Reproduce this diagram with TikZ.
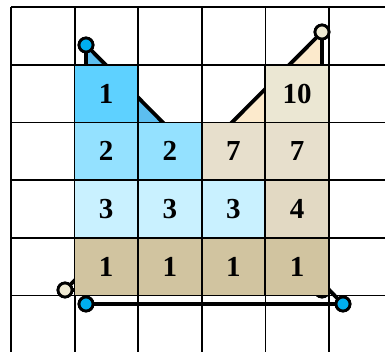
\documentclass[tikz,border=0pt]{standalone}
\usepackage{fontspec}
\setmainfont{Liberation Serif}
\usepackage{tikz}
\usetikzlibrary{positioning}
\definecolor{blueA}{HTML}{5ED1FF}
\definecolor{blueB}{HTML}{94E1FF}
\definecolor{blueC}{HTML}{C9F1FF}
\definecolor{tanA}{HTML}{D1C4A0}
\definecolor{beigeA}{HTML}{EBE7D3}
\definecolor{beigeB}{HTML}{E7DFCC}
\definecolor{beigeC}{HTML}{E2D9C3}
\definecolor{triblue}{HTML}{5CBEEF}
\definecolor{tribeige}{HTML}{FCEACC}
\definecolor{dotblue}{HTML}{00AEEF}
\definecolor{dotbeige}{HTML}{EEE9D2}
\tikzstyle{gridline}=[line width=1.8pt]
\tikzstyle{cell}=[draw, line width=1.8pt, outer sep=0pt, inner sep=0pt, minimum width=63.6pt, minimum height=57.7pt, font=\fontsize{29}{29}\selectfont\bfseries]
\tikzstyle{vert}=[circle, draw, line width=2.8pt, minimum size=14pt, inner sep=0pt]
\tikzstyle{tri}=[line width=3.8pt, line join=round]

\begin{document}
\begin{tikzpicture}[x=1pt, y=-1pt]
		\clip (0,0) rectangle (385,351);
		% grid
		\foreach \i in {0,...,6} {
			\draw[gridline] (11+63.6*\i,7) -- (11+63.6*\i,360);
			\draw[gridline] (11,7+57.7*\i) -- (400,7+57.7*\i);
		}
		% triangles
		\node[vert, fill=dotblue] (B1) at (86,45) {};
		\node[vert, fill=dotblue] (B2) at (343,304) {};
		\node[vert, fill=dotblue] (B3) at (86,304) {};
		\node[vert, fill=dotbeige] (E1) at (322,32) {};
		\node[vert, fill=dotbeige] (E2) at (65,290) {};
		\node[vert, fill=dotbeige] (E3) at (322,290) {};
		\begin{scope}
			\clip (74.5,0) rectangle (329,295.5);
			\fill[tribeige] (E1.center) -- (E2.center) -- (E3.center) -- cycle;
			\fill[triblue] (B1.center) -- (B2.center) -- (B3.center) -- cycle;
		\end{scope}
		\draw[tri] (E1.center) -- (E2.center) -- (E3.center) -- cycle;
		\draw[tri] (B1.center) -- (B2.center) -- (B3.center) -- cycle;
		\node[vert, fill=dotbeige] at (E1) {};
		\node[vert, fill=dotbeige] at (E2) {};
		\node[vert, fill=dotbeige] at (E3) {};
		\node[vert, fill=dotblue] at (B1) {};
		\node[vert, fill=dotblue] at (B2) {};
		\node[vert, fill=dotblue] at (B3) {};
		% cells
		\node[cell, fill=blueA] (c11) at (106.2,93.55) {1};
		\node[cell, fill=beigeA, right=127.2pt of c11] (c14) {10};
		\node[cell, fill=blueB, below=0pt of c11] (c21) {2};
		\node[cell, fill=blueB, right=0pt of c21] (c22) {2};
		\node[cell, fill=beigeB, right=0pt of c22] (c23) {7};
		\node[cell, fill=beigeB, right=0pt of c23] (c24) {7};
		\node[cell, fill=blueC, below=0pt of c21] (c31) {3};
		\node[cell, fill=blueC, right=0pt of c31] (c32) {3};
		\node[cell, fill=blueC, right=0pt of c32] (c33) {3};
		\node[cell, fill=beigeC, right=0pt of c33] (c34) {4};
		\node[cell, fill=tanA, below=0pt of c31] (c41) {1};
		\node[cell, fill=tanA, right=0pt of c41] (c42) {1};
		\node[cell, fill=tanA, right=0pt of c42] (c43) {1};
		\node[cell, fill=tanA, right=0pt of c43] (c44) {1};
	\end{tikzpicture}
\end{document}
